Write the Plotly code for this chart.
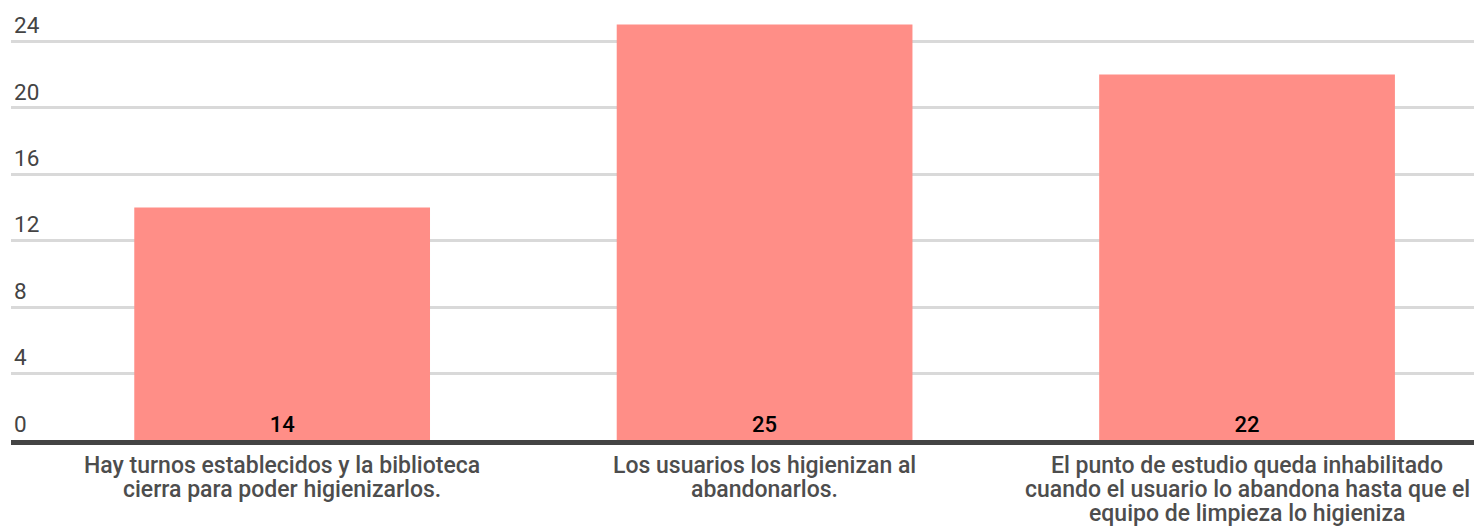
import plotly.graph_objects as go

categories = [
    "Hay turnos establecidos y la biblioteca<br>cierra para poder higienizarlos.",
    "Los usuarios los higienizan al<br>abandonarlos.",
    "El punto de estudio queda inhabilitado<br>cuando el usuario lo abandona hasta que el<br>equipo de limpieza lo higieniza",
]
values = [14, 25, 22]
y_ticks = [0, 4, 8, 12, 16, 20, 24]

bar_color = "#ff8e87"
font_name = "Roboto"
label_color = "#4d4d4d"

fig = go.Figure(go.Bar(
    x=list(range(len(categories))),
    y=values,
    marker_color=bar_color,
    marker_line_width=0,
    text=[str(v) for v in values],
    textposition="inside",
    insidetextanchor="start",
    textangle=0,
    textfont=dict(family=font_name, size=22, color="#000000", weight=500),
    cliponaxis=False,
))

# category labels, one annotation per wrapped line (tighter line pitch than tick labels)
for i, cat in enumerate(categories):
    for j, line in enumerate(cat.split("<br>")):
        fig.add_annotation(
            x=i, y=0, xref="x", yref="paper",
            text=line, showarrow=False,
            xanchor="center", yanchor="middle",
            yshift=-25.5 - 24 * j,
            font=dict(family=font_name, size=23, color=label_color, weight=500),
        )

fig.update_layout(
    width=1474, height=520,
    margin=dict(l=3, r=0, t=0, b=88),
    paper_bgcolor="white",
    plot_bgcolor="white",
    bargap=0.387,
    showlegend=False,
    font=dict(family=font_name, color="#444444"),
)

fig.update_xaxes(
    tickmode="array",
    tickvals=list(range(len(categories))),
    ticktext=["" for _ in categories],
    range=[-0.562, 2.487],
    showgrid=False,
    showline=True, linecolor="#444444", linewidth=5,
    ticks="",
    automargin=False,
)

fig.update_yaxes(
    tickmode="array",
    tickvals=y_ticks,
    range=[0, 26.0],
    showgrid=True, gridcolor="#d9d9d9", gridwidth=3,
    zeroline=False,
    showline=False,
    ticks="",
    ticklabelposition="inside",
    ticklabelshift=-16,
    ticklabelstandoff=0,
    tickfont=dict(family=font_name, size=22.5, color="#444444"),
    automargin=False,
)

fig.write_html("out.html")
